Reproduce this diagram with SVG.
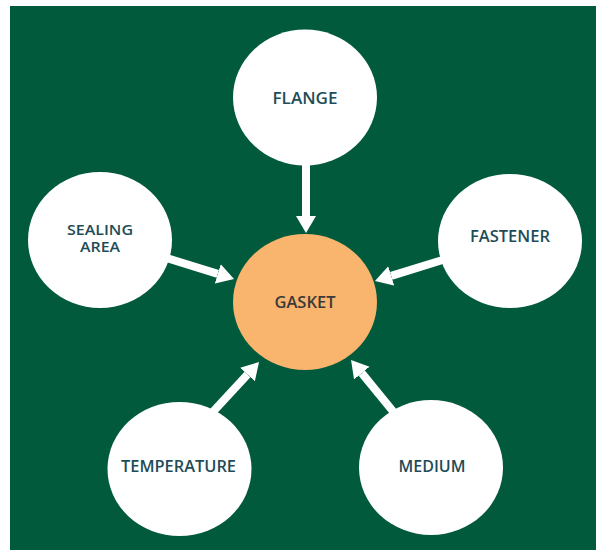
<svg xmlns="http://www.w3.org/2000/svg" width="601" height="551" viewBox="0 0 601 551">
<defs>
<style>
.bg{fill:#025A3C}
.node{fill:#FFFFFF}
.core{fill:#F9B46E}
.lbl{font-family:"Open Sans","DejaVu Sans",sans-serif;font-weight:600;font-size:16px;fill:#1E4C58;text-anchor:middle}
.sm{font-size:14px}
.glbl{fill:#3A3A3A}
.conn{stroke:#FFFFFF;stroke-width:8;fill:none}
</style>
<marker id="ah" markerUnits="userSpaceOnUse" markerWidth="18" markerHeight="22" refX="0" refY="11" orient="auto">
<path d="M0,1 L17,11 L0,21 Z" fill="#FFFFFF"/>
</marker>
</defs>
<rect width="601" height="551" fill="#FFFFFF"/>
<rect class="bg" x="10" y="6" width="586" height="544"/>
<g id="gasket"><ellipse class="core" cx="305" cy="302" rx="72" ry="68"/><text class="lbl glbl" x="305" y="307.5" textLength="61" lengthAdjust="spacingAndGlyphs">GASKET</text></g>
<g id="flange"><ellipse class="node" cx="305" cy="97.5" rx="72" ry="68"/><text class="lbl" x="305" y="103.5" textLength="65" lengthAdjust="spacingAndGlyphs">FLANGE</text></g>
<g id="sealing-area"><ellipse class="node" cx="100" cy="240" rx="72" ry="68"/><text class="lbl sm" x="100" y="234.5" textLength="66" lengthAdjust="spacingAndGlyphs">SEALING</text><text class="lbl sm" x="100" y="252" textLength="40" lengthAdjust="spacingAndGlyphs">AREA</text></g>
<g id="fastener"><ellipse class="node" cx="510" cy="241" rx="72" ry="67"/><text class="lbl" x="510" y="241.5" textLength="80" lengthAdjust="spacingAndGlyphs">FASTENER</text></g>
<g id="temperature"><ellipse class="node" cx="179.5" cy="469" rx="72" ry="67"/><text class="lbl" x="178.5" y="471.5" textLength="115" lengthAdjust="spacingAndGlyphs">TEMPERATURE</text></g>
<g id="medium"><ellipse class="node" cx="431" cy="467.5" rx="72" ry="67.5"/><text class="lbl" x="432" y="471.5" textLength="67" lengthAdjust="spacingAndGlyphs">MEDIUM</text></g>
<g id="connectors">
<line class="conn" x1="306" y1="160" x2="306" y2="216" marker-end="url(#ah)"/>
<line class="conn" x1="160" y1="256" x2="217.8" y2="273.9" marker-end="url(#ah)"/>
<line class="conn" x1="449" y1="258" x2="391.2" y2="275.9" marker-end="url(#ah)"/>
<line class="conn" x1="210" y1="415" x2="247.5" y2="374.5" marker-end="url(#ah)"/>
<line class="conn" x1="396" y1="415" x2="361.8" y2="373.1" marker-end="url(#ah)"/>
</g>
</svg>
